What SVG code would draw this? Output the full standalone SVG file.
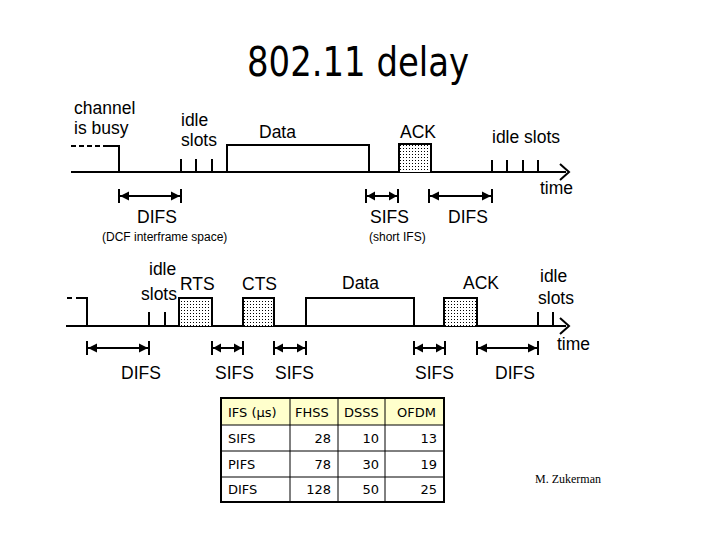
<svg xmlns="http://www.w3.org/2000/svg" width="720" height="540" viewBox="0 0 720 540">
<defs>
<pattern id="dots" width="3" height="3" patternUnits="userSpaceOnUse">
<rect width="3" height="3" fill="#fff"/>
<rect x="1" y="1" width="1" height="1" fill="#000"/>
</pattern>
<style>
.ln{stroke:#000;stroke-width:2;fill:none}
.box{stroke:#000;stroke-width:2;fill:url(#dots)}
.dl{stroke:#000;stroke-width:2;fill:none}
.tri{fill:#000;stroke:none}
.t{font-family:"Liberation Sans",Arial,sans-serif;font-size:17.5px;fill:#000}
.s{font-family:"Liberation Sans",Arial,sans-serif;font-size:12px;fill:#000}
.tb{font-family:"DejaVu Sans",Verdana,sans-serif;font-size:13px;fill:#000}
.grid{stroke:#000;stroke-width:1;fill:none}
</style>
</defs>
<rect width="720" height="540" fill="#fff"/>
<text id="title" x="358" y="76" text-anchor="middle" font-family="'DejaVu Sans','Comic Sans MS',sans-serif" font-size="41" textLength="222" lengthAdjust="spacingAndGlyphs">802.11 delay</text>

<g id="connectors">
<!-- top timeline -->
<path class="ln" d="M71,172 H566"/>
<path class="ln" d="M560,164 L569,172 L560,180"/>
<path class="ln" d="M71,146 H106" stroke-dasharray="5,3"/>
<path class="ln" d="M106,146 H119 V172"/>
<path class="ln" d="M181,172 V159 M196,172 V159 M212,172 V159"/>
<path class="ln" d="M227,172 V145 H369 V172"/>
<path class="ln" d="M492,172 V160 M507,172 V160 M523,172 V160 M538,172 V160"/>
<!-- dimension arrows top -->
<path class="dl" d="M119,189 V203 M181,189 V203 M119,196 H181"/>
<path class="tri" d="M120,196 L129,191.5 L129,200.5 Z M180,196 L171,191.5 L171,200.5 Z"/>
<path class="dl" d="M366,189 V203 M398,189 V203 M366,196 H398"/>
<path class="tri" d="M367,196 L375,191.5 L375,200.5 Z M397,196 L389,191.5 L389,200.5 Z"/>
<path class="dl" d="M429,189 V203 M492,189 V203 M429,196 H492"/>
<path class="tri" d="M430,196 L439,191.5 L439,200.5 Z M491,196 L482,191.5 L482,200.5 Z"/>
<!-- bottom timeline -->
<path class="ln" d="M66,326 H566"/>
<path class="ln" d="M560,318 L569,326 L560,334"/>
<path class="ln" d="M67,298 H72 M76,298 H87 V326"/>
<path class="ln" d="M149,326 V312 M165,326 V312"/>
<path class="ln" d="M306,326 V298 H414 V326"/>
<path class="ln" d="M538,326 V312 M553,326 V312"/>
<!-- dimension arrows bottom -->
<path class="dl" d="M87,341 V355 M149,341 V355 M87,348 H149"/>
<path class="tri" d="M88,348 L97,343.5 L97,352.5 Z M148,348 L139,343.5 L139,352.5 Z"/>
<path class="dl" d="M212,341 V355 M243,341 V355 M212,348 H243"/>
<path class="tri" d="M213,348 L221,343.5 L221,352.5 Z M242,348 L234,343.5 L234,352.5 Z"/>
<path class="dl" d="M274,341 V355 M306,341 V355 M274,348 H306"/>
<path class="tri" d="M275,348 L283,343.5 L283,352.5 Z M305,348 L297,343.5 L297,352.5 Z"/>
<path class="dl" d="M414,341 V355 M445,341 V355 M414,348 H445"/>
<path class="tri" d="M415,348 L423,343.5 L423,352.5 Z M444,348 L436,343.5 L436,352.5 Z"/>
<path class="dl" d="M477,341 V355 M538,341 V355 M477,348 H538"/>
<path class="tri" d="M478,348 L487,343.5 L487,352.5 Z M537,348 L528,343.5 L528,352.5 Z"/>
</g>

<g id="ack1"><path class="box" d="M399,172 V144 H431 V172"/></g>
<g id="rts"><path class="box" d="M179,326 V298 H212 V326"/></g>
<g id="cts"><path class="box" d="M243,326 V298 H274 V326"/></g>
<g id="ack2"><path class="box" d="M444,326 V298 H477 V326"/></g>

<g id="labels-top">
<text class="t" x="74" y="114">channel</text>
<text class="t" x="74" y="134">is busy</text>
<text class="t" x="181" y="126">idle</text>
<text class="t" x="181" y="146">slots</text>
<text class="t" x="259" y="138">Data</text>
<text class="t" x="400" y="138">ACK</text>
<text class="t" x="492" y="143">idle slots</text>
<text class="t" x="540" y="194">time</text>
<text class="t" x="137" y="223">DIFS</text>
<text class="s" x="102" y="241">(DCF interframe space)</text>
<text class="t" x="370" y="223">SIFS</text>
<text class="t" x="448" y="223">DIFS</text>
<text class="s" x="369" y="241">(short IFS)</text>
</g>

<g id="labels-bottom">
<text class="t" x="149" y="275">idle</text>
<text class="t" x="141" y="300">slots</text>
<text class="t" x="180" y="290">RTS</text>
<text class="t" x="242" y="290">CTS</text>
<text class="t" x="342" y="289">Data</text>
<text class="t" x="463" y="289">ACK</text>
<text class="t" x="540" y="282">idle</text>
<text class="t" x="538" y="304">slots</text>
<text class="t" x="557" y="350">time</text>
<text class="t" x="121" y="379">DIFS</text>
<text class="t" x="215" y="379">SIFS</text>
<text class="t" x="275" y="379">SIFS</text>
<text class="t" x="415" y="379">SIFS</text>
<text class="t" x="495" y="379">DIFS</text>
</g>

<g id="table">
<rect x="221" y="398" width="223" height="27" fill="#ffffcc"/>
<path class="grid" d="M221,425 H444 M221,451 H444 M221,477 H444 M290,398 V502 M338,398 V502 M385,398 V502"/>
<rect x="221" y="398" width="223" height="104" fill="none" stroke="#000" stroke-width="2"/>
<text class="tb" x="228" y="417">IFS (µs)</text>
<text class="tb" x="295" y="417">FHSS</text>
<text class="tb" x="344" y="417">DSSS</text>
<text class="tb" x="397" y="417">OFDM</text>
<text class="tb" x="228" y="443">SIFS</text>
<text class="tb" x="228" y="469">PIFS</text>
<text class="tb" x="228" y="494">DIFS</text>
<text class="tb" x="331" y="443" text-anchor="end">28</text>
<text class="tb" x="331" y="469" text-anchor="end">78</text>
<text class="tb" x="331" y="494" text-anchor="end">128</text>
<text class="tb" x="379" y="443" text-anchor="end">10</text>
<text class="tb" x="379" y="469" text-anchor="end">30</text>
<text class="tb" x="379" y="494" text-anchor="end">50</text>
<text class="tb" x="437" y="443" text-anchor="end">13</text>
<text class="tb" x="437" y="469" text-anchor="end">19</text>
<text class="tb" x="437" y="494" text-anchor="end">25</text>
</g>

<text id="author" x="535" y="483" font-family="'Liberation Serif','Times New Roman',serif" font-size="12">M. Zukerman</text>
</svg>
